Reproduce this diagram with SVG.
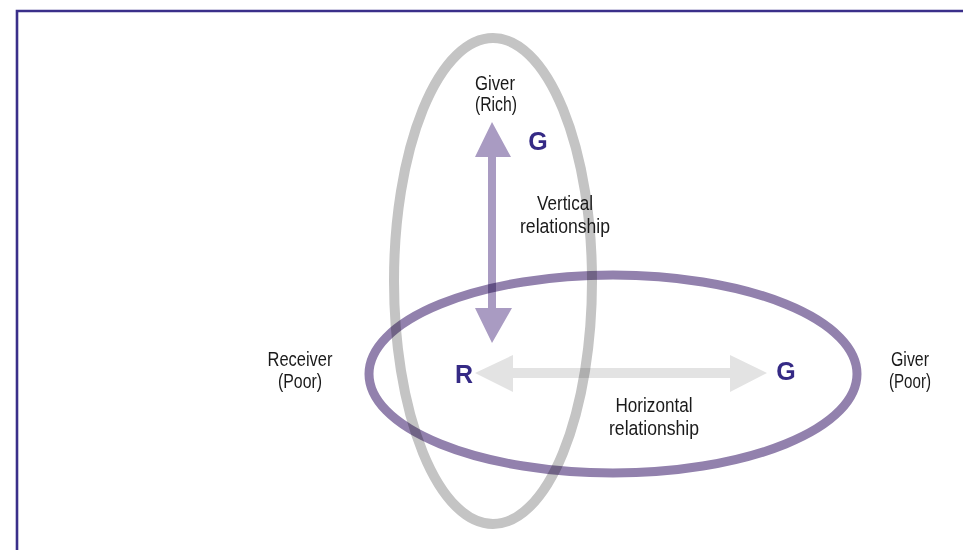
<svg xmlns="http://www.w3.org/2000/svg" width="963" height="550" viewBox="0 0 963 550">
<style>
.lbl{font-family:"Liberation Sans","Arial",sans-serif;font-size:20.5px;fill:#1a1a1a;text-anchor:middle}
.big{font-family:"Liberation Sans","Arial",sans-serif;font-weight:bold;font-size:25px;fill:#352a85;text-anchor:middle}
.mul{mix-blend-mode:multiply}
</style>
<rect width="963" height="550" fill="#ffffff"/>
<path d="M17,550 V11 H963" fill="none" stroke="#3a2f8a" stroke-width="2.6"/>
<g style="isolation:isolate">
<g id="vertical-group">
<ellipse class="mul" cx="493" cy="281" rx="99" ry="243" fill="none" stroke="#c4c4c4" stroke-width="10"/>
</g>
<g id="horizontal-group">
<ellipse class="mul" cx="613" cy="374" rx="244" ry="99" fill="none" stroke="#9281ad" stroke-width="9"/>
</g>
<g id="connectors">
<path class="mul" fill="#a99bc2" d="M492,122 L511,157 L496,157 L496,308 L512,308 L492,343 L475,308 L488,308 L488,157 L475,157 Z"/>
<path class="mul" fill="#e3e3e3" d="M475,373 L513,355 L513,368 L730,368 L730,355 L767,373 L730,392 L730,378 L513,378 L513,392 Z"/>
</g>
</g>
<g id="node-giver-rich">
<text class="lbl" x="495" y="90" textLength="40" lengthAdjust="spacingAndGlyphs">Giver</text>
<text class="lbl" x="496" y="111" textLength="42" lengthAdjust="spacingAndGlyphs">(Rich)</text>
<text class="big" x="538" y="150">G</text>
</g>
<g id="node-receiver-poor">
<text class="lbl" x="300" y="366" textLength="65" lengthAdjust="spacingAndGlyphs">Receiver</text>
<text class="lbl" x="300" y="388" textLength="44" lengthAdjust="spacingAndGlyphs">(Poor)</text>
<text class="big" x="464" y="383">R</text>
</g>
<g id="node-giver-poor">
<text class="lbl" x="910" y="366" textLength="38" lengthAdjust="spacingAndGlyphs">Giver</text>
<text class="lbl" x="910" y="388" textLength="42" lengthAdjust="spacingAndGlyphs">(Poor)</text>
<text class="big" x="786" y="380">G</text>
</g>
<g id="labels">
<text class="lbl" x="565" y="210" textLength="56" lengthAdjust="spacingAndGlyphs">Vertical</text>
<text class="lbl" x="565" y="233" textLength="90" lengthAdjust="spacingAndGlyphs">relationship</text>
<text class="lbl" x="654" y="412" textLength="77" lengthAdjust="spacingAndGlyphs">Horizontal</text>
<text class="lbl" x="654" y="435" textLength="90" lengthAdjust="spacingAndGlyphs">relationship</text>
</g>
</svg>
